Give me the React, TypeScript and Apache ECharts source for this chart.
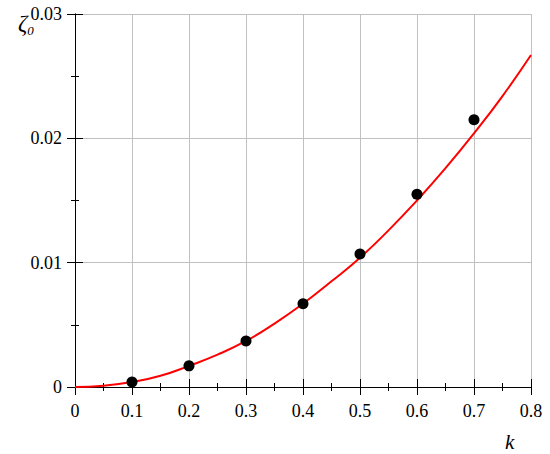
import React, { useEffect, useRef } from "react";
import * as echarts from "echarts";

const curveK = [0, 0.05, 0.1, 0.15, 0.2, 0.25, 0.3, 0.35, 0.4, 0.45, 0.5, 0.55, 0.6, 0.65, 0.7, 0.75, 0.8];
const curveZeta = [0, 0.0001, 0.0004, 0.0009, 0.0017, 0.0026, 0.0037, 0.0051, 0.0067, 0.0085, 0.0104, 0.0126, 0.015, 0.0176, 0.0204, 0.0234, 0.0267];
const dotK = [0.1, 0.2, 0.3, 0.4, 0.5, 0.6, 0.7];
const dotZeta = [0.0004, 0.0017, 0.0037, 0.0067, 0.0107, 0.0155, 0.0215];
const xTickLabels: Record<string, string> = { "0": "0", "0.1": "0.1", "0.2": "0.2", "0.3": "0.3", "0.4": "0.4", "0.5": "0.5", "0.6": "0.6", "0.7": "0.7", "0.8": "0.8" };
const yTickLabels: Record<string, string> = { "0": "0", "0.01": "0.01", "0.02": "0.02", "0.03": "0.03" };

const FONT = "Liberation Serif";

export default function App() {
  const ref = useRef<HTMLDivElement>(null);
  useEffect(() => {
    if (!ref.current) return;
    const chart = echarts.init(ref.current, undefined, { renderer: "svg" });
    const axisLine = { show: true, lineStyle: { color: "#000", width: 1 } };
    const tick = { show: true, inside: true, length: 8, lineStyle: { color: "#000", width: 1 } };
    const minor = { show: true, splitNumber: 2, length: 4, lineStyle: { color: "#000", width: 1 } };
    chart.setOption({
      animation: false,
      backgroundColor: "#fff",
      textStyle: { fontFamily: FONT },
      grid: { left: 75, right: 19, top: 14, bottom: 67, containLabel: false },
      xAxis: [
        {
          type: "value", min: 0, max: 0.8, interval: 0.1,
          axisLine, axisTick: tick, minorTick: minor,
          splitLine: { show: true, lineStyle: { color: "#c0c0c0", width: 1 } },
          axisLabel: {
            margin: 15, color: "#000", fontFamily: FONT, fontSize: 18,
            formatter: (v: number) => xTickLabels[String(+v.toFixed(2))] ?? "",
          },
        },
        {
          type: "value", position: "top", min: 0, max: 0.8, interval: 0.1,
          axisLine, axisTick: tick, minorTick: minor,
          splitLine: { show: false }, axisLabel: { show: false },
        },
      ],
      yAxis: [
        {
          type: "value", min: 0, max: 0.03, interval: 0.01,
          axisLine, axisTick: tick, minorTick: minor,
          splitLine: { show: true, lineStyle: { color: "#c0c0c0", width: 1 } },
          axisLabel: {
            margin: 13, color: "#000", fontFamily: FONT, fontSize: 18,
            formatter: (v: number) => yTickLabels[String(+v.toFixed(3))] ?? "",
          },
        },
        {
          type: "value", position: "right", min: 0, max: 0.03, interval: 0.01,
          axisLine, axisTick: tick, minorTick: minor,
          splitLine: { show: false }, axisLabel: { show: false },
        },
      ],
      series: [
        {
          type: "line",
          data: curveK.map((k, i) => [k, curveZeta[i]]),
          smooth: true,
          showSymbol: false,
          lineStyle: { color: "#ff0000", width: 2 },
          z: 3,
        },
        {
          type: "scatter",
          data: dotK.map((k, i) => [k, dotZeta[i]]),
          symbol: "circle",
          symbolSize: 11,
          itemStyle: { color: "#000", opacity: 1 },
          z: 4,
        },
      ],
      graphic: [
        {
          type: "text", left: 18, top: 12,
          style: {
            text: "{a|ζ}{b|0}",
            fontFamily: FONT,
            rich: {
              a: { fontFamily: FONT, fontStyle: "italic", fontSize: 23, fill: "#000" },
              b: { fontFamily: FONT, fontStyle: "italic", fontSize: 13, fill: "#000", padding: [14, 0, 0, 0] },
            },
          },
        },
        {
          type: "text", left: 505, top: 431,
          style: { text: "k", fontFamily: FONT, fontStyle: "italic", fontSize: 21, fill: "#000" },
        },
      ],
    });
    return () => chart.dispose();
  }, []);
  return <div ref={ref} style={{ position: "fixed", left: 0, top: 0, width: 550, height: 454 }} />;
}
